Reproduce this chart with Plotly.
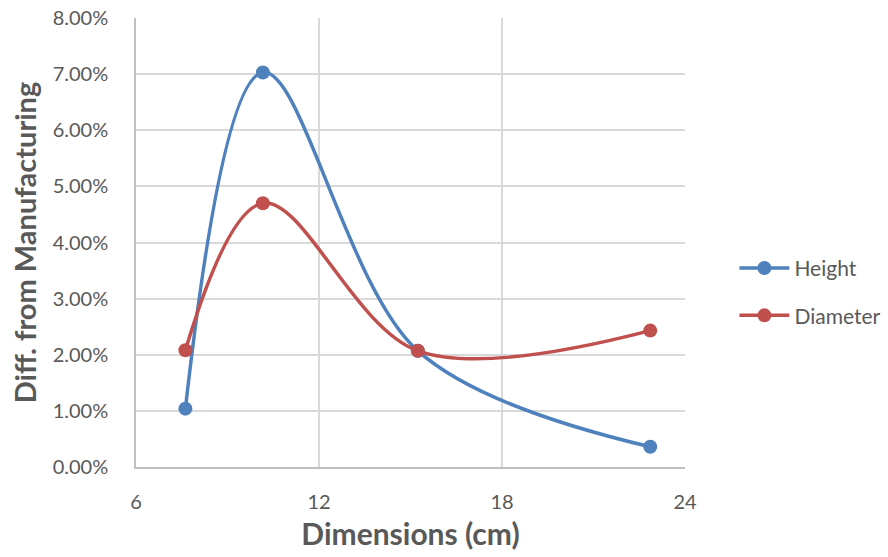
import plotly.graph_objects as go

dimensions_cm = [7.62, 10.16, 15.24, 22.86]
height_diff = [0.0104, 0.0703, 0.0207, 0.0036]
diameter_diff = [0.0208, 0.0470, 0.0207, 0.0243]
x_ticks = [6, 12, 18, 24]
y_ticks = [0, 0.01, 0.02, 0.03, 0.04, 0.05, 0.06, 0.07, 0.08]

FONT = "Lato"
GREY = "#595959"

fig = go.Figure()
fig.add_trace(go.Scatter(x=dimensions_cm, y=height_diff, name="Height", legendgroup="h",
                         mode="lines+markers", line=dict(color="#4F81BD", width=3.5, shape="spline", smoothing=1.0),
                         marker=dict(size=14, color="#4F81BD")))
fig.add_trace(go.Scatter(x=dimensions_cm, y=diameter_diff, name="Diameter", legendgroup="d",
                         mode="lines+markers", line=dict(color="#C0504D", width=3.5, shape="spline", smoothing=1.0),
                         marker=dict(size=14, color="#C0504D")))

fig.update_layout(
    width=888, height=557,
    margin=dict(l=136, r=203, t=18, b=90, autoexpand=False),
    paper_bgcolor="white", plot_bgcolor="white",
    font=dict(family=FONT, size=20, color=GREY),
    legend=dict(x=1.09, xanchor="left", y=0.39, yanchor="middle", font=dict(size=21, color=GREY),
                itemwidth=50, tracegroupgap=17),
)
fig.update_xaxes(range=[6, 24], tickvals=x_ticks, ticktext=[str(v) for v in x_ticks],
                 showgrid=True, gridcolor="#d9d9d9", gridwidth=1.5, zeroline=False,
                 showline=True, linecolor="#bfbfbf", linewidth=1.5, mirror=False,
                 ticks="", ticklabelstandoff=16, automargin=False,
                 title=dict(text="<b>Dimensions (cm)</b>", font=dict(size=30, color=GREY), standoff=12))
fig.update_yaxes(range=[0, 0.08], tickvals=y_ticks, tickformat=".2%",
                 showgrid=True, gridcolor="#d9d9d9", gridwidth=1.5, zeroline=False,
                 showline=True, linecolor="#bfbfbf", linewidth=1.5,
                 ticks="", ticklabelstandoff=22, automargin=False,
                 title=dict(text="<b>Diff. from Manufacturing</b>", font=dict(size=29, color=GREY), standoff=8))

fig.write_html("out.html")
